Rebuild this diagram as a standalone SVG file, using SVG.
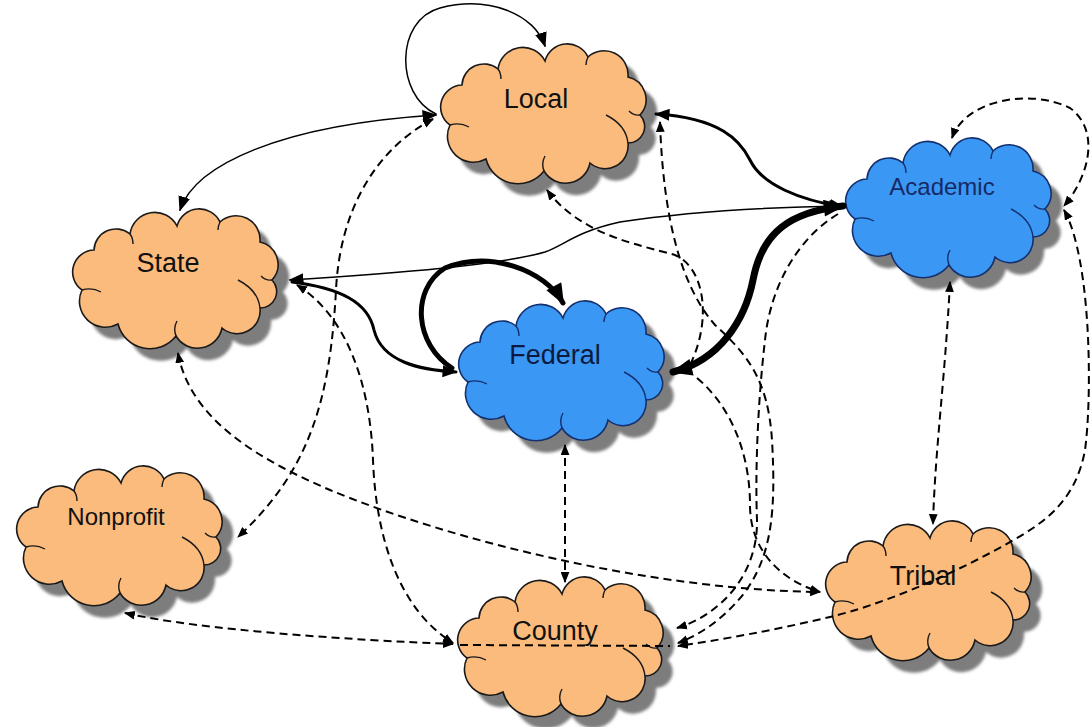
<svg xmlns="http://www.w3.org/2000/svg" xmlns:xlink="http://www.w3.org/1999/xlink" width="1091" height="727" viewBox="0 0 1091 727">
<style>
.sh{fill:#7d7d7d;stroke:none}
.or{fill:#FBBB7C;stroke:#1a1a1a;stroke-width:1.6}
.bl{fill:#3A97F3;stroke:#14306e;stroke-width:1.6}
.ino{fill:none;stroke:#1a1a1a;stroke-width:1.4}
.inb{fill:none;stroke:#14306e;stroke-width:1.4}
.lbl{font-family:"Liberation Sans",Arial,sans-serif;font-size:27px;fill:#111;text-anchor:middle}
.sol{fill:none;stroke:#000;stroke-linecap:round}
.dash{fill:none;stroke:#000;stroke-width:2;stroke-dasharray:8 5}
</style>
<defs>
<filter id="blur" x="-10%" y="-10%" width="120%" height="120%"><feGaussianBlur stdDeviation="1.5"/></filter>
<path id="cloud" d="M22,42 A22,22 0 0 1 58,26 A25,25 0 0 1 105,18 A23,23 0 0 1 148,14 A24,24 0 0 1 188,34 A23,23 0 0 1 200,72 A16.5,16.5 0 0 1 188,100 A23,23 0 0 1 150,120 A25,25 0 0 1 104,128 A33,33 0 0 1 46,116 A26,26 0 0 1 10,82 A22,22 0 0 1 22,42 Z"/>
<path id="inner" d="M10,82 q10,-3 19,2 M200,72 q-6,1 -11,-4 M188,100 q-2,-18 -22,-28 M104,128 q-3,-8 1,-15 M58,26 q3,4 3,10 M148,14 q-2,4 -2,8"/>
<marker id="ms" viewBox="0 0 10 8" refX="9" refY="4" markerWidth="11" markerHeight="9" markerUnits="userSpaceOnUse" orient="auto-start-reverse"><path d="M0,0 L10,4 L0,8 z" fill="#000"/></marker>
<marker id="mm" viewBox="0 0 10 8" refX="9" refY="4" markerWidth="15" markerHeight="12" markerUnits="userSpaceOnUse" orient="auto-start-reverse"><path d="M0,0 L10,4 L0,8 z" fill="#000"/></marker>
<marker id="ml" viewBox="0 0 10 8" refX="9" refY="4" markerWidth="22" markerHeight="17" markerUnits="userSpaceOnUse" orient="auto-start-reverse"><path d="M0,0 L10,4 L0,8 z" fill="#000"/></marker>
</defs>
<rect width="1091" height="727" fill="#fff"/>

<g id="local" transform="translate(440,43)">
<use xlink:href="#cloud" href="#cloud" class="sh" transform="translate(11,12)" filter="url(#blur)"/>
<use xlink:href="#cloud" href="#cloud" class="or"/>
<use xlink:href="#inner" href="#inner" class="ino"/>
<text class="lbl" x="96" y="65">Local</text>
</g>
<g id="academic" transform="translate(845,137)">
<use xlink:href="#cloud" href="#cloud" class="sh" transform="translate(11,12)" filter="url(#blur)"/>
<use xlink:href="#cloud" href="#cloud" class="bl"/>
<use xlink:href="#inner" href="#inner" class="inb"/>
<text class="lbl" x="97" y="58" style="font-size:24px;fill:#172a66">Academic</text>
</g>
<g id="state" transform="translate(72,208)">
<use xlink:href="#cloud" href="#cloud" class="sh" transform="translate(11,12)" filter="url(#blur)"/>
<use xlink:href="#cloud" href="#cloud" class="or"/>
<use xlink:href="#inner" href="#inner" class="ino"/>
<text class="lbl" x="96" y="64">State</text>
</g>
<g id="federal" transform="translate(458,300)">
<use xlink:href="#cloud" href="#cloud" class="sh" transform="translate(11,12)" filter="url(#blur)"/>
<use xlink:href="#cloud" href="#cloud" class="bl"/>
<use xlink:href="#inner" href="#inner" class="inb"/>
<text class="lbl" x="97" y="64" style="fill:#0d1a40">Federal</text>
</g>
<g id="nonprofit" transform="translate(16,465)">
<use xlink:href="#cloud" href="#cloud" class="sh" transform="translate(11,12)" filter="url(#blur)"/>
<use xlink:href="#cloud" href="#cloud" class="or"/>
<use xlink:href="#inner" href="#inner" class="ino"/>
<text class="lbl" x="100" y="60" style="font-size:24px">Nonprofit</text>
</g>
<g id="county" transform="translate(457,576)">
<use xlink:href="#cloud" href="#cloud" class="sh" transform="translate(11,12)" filter="url(#blur)"/>
<use xlink:href="#cloud" href="#cloud" class="or"/>
<use xlink:href="#inner" href="#inner" class="ino"/>
<text class="lbl" x="98" y="64">County</text>
</g>
<g id="tribal" transform="translate(825,520)">
<use xlink:href="#cloud" href="#cloud" class="sh" transform="translate(11,12)" filter="url(#blur)"/>
<use xlink:href="#cloud" href="#cloud" class="or"/>
<use xlink:href="#inner" href="#inner" class="ino"/>
<text class="lbl" x="98" y="65">Tribal</text>
</g>

<g id="connectors">
<path class="sol" stroke-width="1.5" d="M436,114 C395,95 395,20 440,8 C490,-5 535,15 545,46" marker-end="url(#mm)"/>
<path class="sol" stroke-width="1.5" d="M180,210 C195,165 280,125 436,115" marker-start="url(#mm)" marker-end="url(#mm)"/>
<path class="sol" stroke-width="1.5" d="M290,280 C400,273 500,265 545,252 C565,245 575,232 620,222 C700,210 780,207 843,206" marker-start="url(#mm)" marker-end="url(#mm)"/>
<path class="sol" stroke-width="3" d="M292,282 C340,288 368,302 374,330 C382,362 420,370 456,372" marker-end="url(#mm)"/>
<path class="sol" stroke-width="5" d="M452,368 C415,345 410,290 445,268 C490,250 545,270 563,303" marker-end="url(#ml)"/>
<path class="sol" stroke-width="3" d="M656,114 C720,118 740,140 750,160 C762,185 800,200 843,207" marker-start="url(#mm)" marker-end="url(#mm)"/>
<path class="sol" stroke-width="7" d="M673,372 C720,360 745,320 753,280 C762,232 790,212 843,206" marker-start="url(#ml)" marker-end="url(#ml)"/>

<path class="dash" d="M547,190 C580,235 640,245 675,255 C705,268 712,320 690,365" marker-start="url(#ms)"/>
<path class="dash" d="M697,378 C735,410 750,460 750,505 C750,550 780,580 820,592" marker-end="url(#ms)"/>
<path class="dash" d="M838,214 C795,240 770,290 765,340 C758,400 755,470 757,520 C758,575 720,615 677,628" marker-end="url(#ms)"/>
<path class="dash" d="M660,122 C663,215 680,285 715,325 C748,355 768,380 772,440 C776,510 772,555 745,592 C725,618 700,635 678,643" marker-start="url(#ms)" marker-end="url(#ms)"/>
<path class="dash" d="M1064,210 C1092,260 1092,400 1085,450 C1075,505 1040,525 1005,545 C945,578 880,605 830,617 C775,630 720,640 678,646" marker-start="url(#ms)" marker-end="url(#ms)"/>
<path class="dash" d="M952,138 C965,100 1030,88 1070,108 C1100,130 1090,175 1064,206" marker-start="url(#ms)" marker-end="url(#ms)"/>
<path class="dash" d="M950,282 C945,380 935,450 933,524" marker-start="url(#ms)" marker-end="url(#ms)"/>
<path class="dash" d="M565,445 L565,582" marker-start="url(#ms)" marker-end="url(#ms)"/>
<path class="dash" d="M433,119 C375,150 340,210 336,290 C330,400 310,470 238,537" marker-start="url(#ms)" marker-end="url(#ms)"/>
<path class="dash" d="M297,285 C345,315 370,380 373,460 C376,540 400,610 453,643" marker-start="url(#ms)" marker-end="url(#ms)"/>
<path class="dash" d="M178,353 C190,420 260,460 330,490 C450,540 650,590 820,592" marker-start="url(#ms)" marker-end="url(#ms)"/>
<path class="dash" d="M125,613 C200,630 350,640 453,644" marker-start="url(#ms)" marker-end="url(#ms)"/>
<path class="dash" d="M460,645 L670,646"/>
</g>
</svg>
